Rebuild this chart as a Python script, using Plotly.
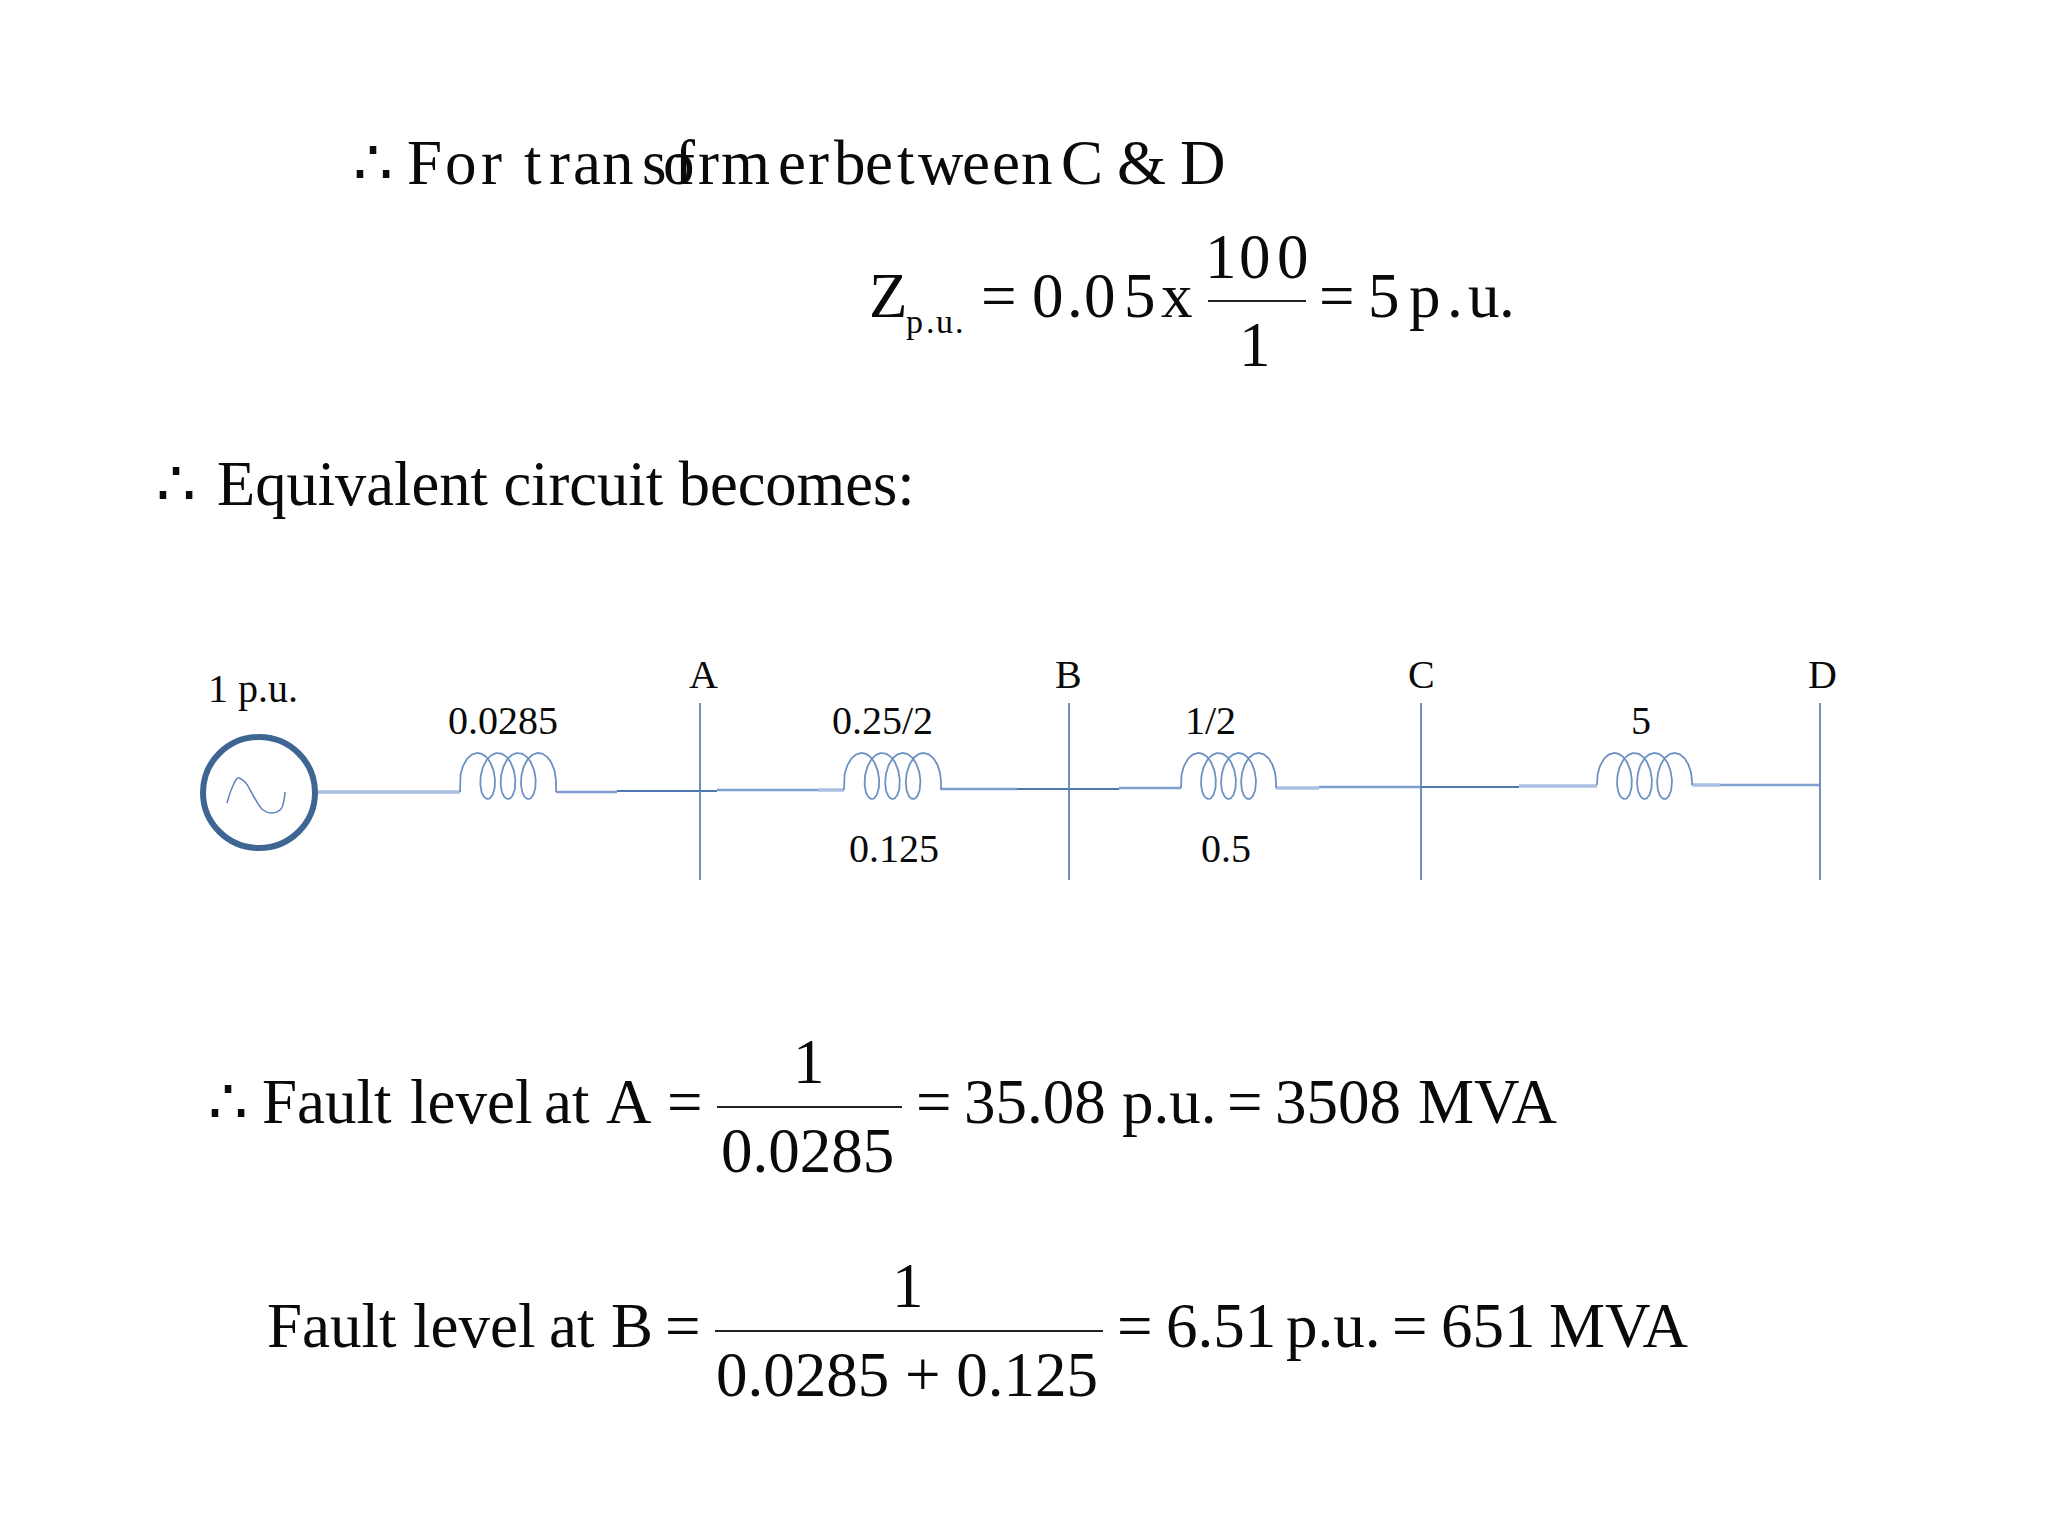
import numpy as np
import plotly.graph_objects as go

SERIF = "Liberation Serif"
INK = "#0a0a0a"
WIRE = "#5f87ba"
BODY = 63
SMALL = 40

# text rows: tokens, left edge of each token, baseline
row1_tokens = list("∴") + list("For") + list("trans") + list("former") + list("between") + ["C", "&", "D"]
row1_x = [354, 408, 446, 482, 525, 550, 574, 603, 643, 675, 664, 699, 722, 779, 809,
          835, 866, 898, 919, 963, 993, 1022, 1062, 1118, 1181]
row2_tokens = ["Z", "=", "0", ".", "0", "5", "x", "=", "5", "p", ".", "u", "."]
row2_x = [870, 982, 1033, 1068, 1085, 1125, 1162, 1320, 1369, 1410, 1448, 1469, 1500]
sub_tokens = ["p", ".", "u", "."]
sub_x = [907, 927, 937, 956]
row3_tokens = ["∴", "Equivalent circuit becomes:"]
row3_x = [157, 218]
row4_tokens = ["∴", "Fault", "level", "at", "A", "=", "=", "35.08", "p.u.", "=", "3508", "MVA"]
row4_x = [209, 263, 411, 545, 607, 668, 917, 965, 1123, 1228, 1276, 1419]
row5_tokens = ["Fault", "level", "at", "B", "=", "=", "6.51", "p.u.", "=", "651", "MVA"]
row5_x = [268, 414, 550, 612, 666, 1118, 1167, 1287, 1393, 1442, 1550]

# first fraction is letter spaced, so its numerator comes apart
frac1_top = ["1", "0", "0"]
frac1_top_x = [1206, 1240, 1278]

# fractions: numerator, denominator, bar ends, bar height
frac_top = ["", "1", "1"]
frac_bottom = ["1", "0.0285", "0.0285 + 0.125"]
frac_x0 = [1208, 717, 715]
frac_x1 = [1306, 902, 1103]
frac_y = [301, 1107, 1331]

# circuit, read in page pixels
bus_names = ["A", "B", "C", "D"]
bus_x = [700, 1069, 1421, 1820]
bus_label_x = [703, 1068, 1421, 1822]
coil_left = [460, 844, 1181, 1597]
coil_right = [556, 941, 1276, 1692]
coil_wire_y = [792, 790, 788, 785]
seg_x0 = [318, 556, 617, 717, 818, 941, 1017, 1119, 1276, 1319, 1421, 1519, 1692, 1720]
seg_x1 = [460, 617, 717, 818, 844, 1017, 1119, 1181, 1319, 1421, 1519, 1597, 1720, 1820]
seg_y = [792, 792, 791, 790, 790, 789, 789, 788, 788, 787, 787, 786, 785, 785]
seg_tone = ["light", "mid", "dark", "mid", "light", "mid", "dark", "mid", "light", "mid", "dark", "light", "light", "mid"]
sine_x = [227, 232, 238, 245, 254, 263, 272, 281, 284, 285]
sine_y = [803, 788, 778, 782, 797, 810, 813, 809, 800, 792]

top_labels = ["0.0285", "0.25/2", "1/2", "5"]
top_labels_x = [449, 833, 1186, 1632]
bottom_labels = ["0.125", "0.5"]
bottom_labels_x = [850, 1202]

tone_color = {"light": "#a9c0e2", "mid": "#7fa0cf", "dark": "#4f78ae"}
tone_width = {"light": 3.5, "mid": 2.5, "dark": 2}

fig = go.Figure()


def put(text, x, base, size, anchor="left"):
    # annotation boxes are centred, Liberation Serif baseline sits .3375 em under the centre
    # left anchored text lands about 2px right of where it is asked for
    fig.add_annotation(x=x - 2 if anchor == "left" else x, y=base - 0.3375 * size, text=text,
                       showarrow=False, xanchor=anchor, yanchor="middle", borderpad=0,
                       font=dict(family=SERIF, size=size, color=INK))


def row(tokens, xs, base, size=BODY):
    for tok, x in zip(tokens, xs):
        put(tok, x, base, size)


def line(xs, ys, color=WIRE, width=2, **kw):
    fig.add_trace(go.Scatter(x=xs, y=ys, mode="lines", hoverinfo="skip",
                             line=dict(color=color, width=width, **kw)))


row(row1_tokens, row1_x, 184)
row(row2_tokens, row2_x, 317)
row(sub_tokens, sub_x, 333, 34)
row(frac1_top, frac1_top_x, 278)
row(row3_tokens, row3_x, 505, 62.5)
row(row4_tokens, row4_x, 1123)
row(row5_tokens, row5_x, 1347)

for num, den, x0, x1, y in zip(frac_top, frac_bottom, frac_x0, frac_x1, frac_y):
    mid = (x0 + x1) / 2
    if num:
        put(num, mid - 1, y - 24, BODY, "center")
    put(den, mid - 2, y + 65, BODY, "center")
    line([x0, x1], [y, y], color="#222222", width=2)

# wire and buses
for x0, x1, y, tone in zip(seg_x0, seg_x1, seg_y, seg_tone):
    line([x0, x1], [y, y], color=tone_color[tone], width=tone_width[tone])
for x in bus_x:
    line([x, x], [703, 880], width=1.8)
for name, x in zip(bus_names, bus_label_x):
    put(name, x, 688, SMALL, "center")

# coils: a looped curve with four humps, the ends drop back to the wire
th = np.linspace(-0.3, 7 * np.pi + 0.3, 400)
for x0, x1, wy in zip(coil_left, coil_right, coil_wire_y):
    q = 12
    p = (x1 - x0 - 1.91 * q) / (7 * np.pi + 0.6)
    cx = x0 + p * (th + 0.3) + q * (0.955 - np.cos(th))
    cy = 776 - 23 * np.sin(th)
    line([x0] + list(cx) + [x1], [wy] + list(cy) + [wy], color="#6d92c2", width=1.8)

# source
fig.add_shape(type="circle", x0=203, x1=315, y0=737, y1=848,
              line=dict(color="#3f6593", width=6))
line(sine_x, sine_y, color="#5b83b8", width=1.5, shape="spline")

put("1 p.u.", 209, 702, SMALL)
for text, x in zip(top_labels, top_labels_x):
    put(text, x, 734, SMALL)
for text, x in zip(bottom_labels, bottom_labels_x):
    put(text, x, 862, SMALL)

# the page body has an 8px margin, so the plot starts at 8,8 and the ranges start there too
fig.update_layout(
    width=2040, height=1528, margin=dict(l=0, r=0, t=0, b=0),
    paper_bgcolor="white", plot_bgcolor="white", showlegend=False,
    xaxis=dict(range=[8, 2048], visible=False, fixedrange=True),
    yaxis=dict(range=[1536, 8], visible=False, fixedrange=True),
)

fig.write_html("out.html")
